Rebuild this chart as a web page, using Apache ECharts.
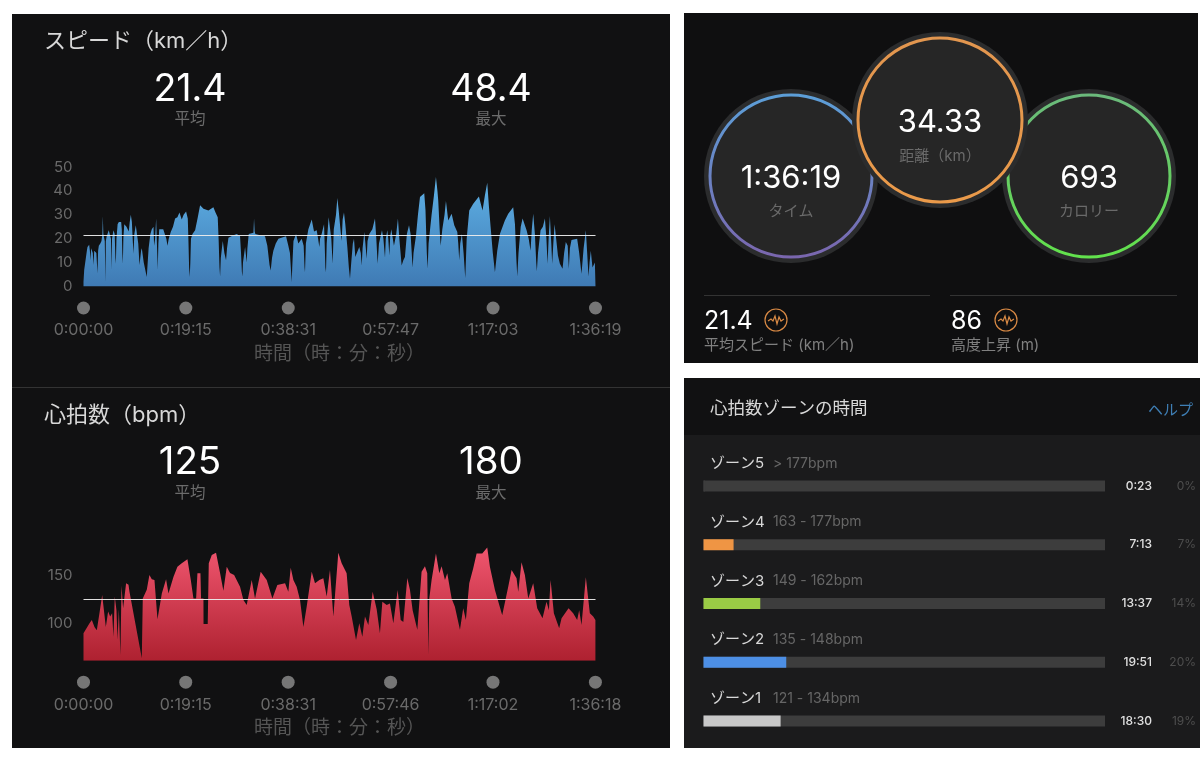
<!DOCTYPE html>
<html><head><meta charset="utf-8">
<style>html,body{margin:0;padding:0;background:#fff}#c{width:1200px;height:762px}</style>
<script src="https://cdn.jsdelivr.net/npm/echarts@6/dist/echarts.min.js"></script>
</head><body><div id="c"></div>
<script>
const speedTimes=[0,8,20,30,38,45,64,72,79,86,94,105,113,121,132,145,158,165,173,190,203,213,218,224,240,248,252,262,285,298,310,316,322,338,352,360,365,372,385,399,425,432,438,444,450,460,470,485,496,511,522,534,546,555,564,574,590,609,618,632,650,658,680,714,735,755,771,790,797,808,820,827,834,838,845,855,869,900,921,935,948,962,985,1010,1034,1060,1083,1109,1130,1158,1177,1184,1192,1199,1206,1213,1230,1260,1290,1316,1354,1410,1466,1490,1515,1525,1535,1542,1550,1572,1590,1609,1620,1636,1692,1730,1767,1778,1788,1794,1800,1824,1842,1850,1865,1918,1925,1932,1940,1993,2049,2075,2100,2113,2128,2143,2170,2200,2286,2312,2330,2345,2350,2356,2370,2399,2425,2463,2485,2495,2500,2510,2538,2576,2602,2632,2648,2662,2670,2688,2715,2722,2730,2737,2745,2767,2782,2797,2812,2825,2850,2865,2880,2900,2914,2925,2940,2955,2978,2995,3008,3022,3040,3053,3068,3085,3113,3130,3140,3150,3170,3182,3196,3206,3226,3260,3290,3305,3320,3335,3369,3385,3403,3412,3429,3440,3452,3462,3474,3504,3530,3549,3565,3591,3610,3628,3650,3674,3692,3708,3715,3725,3752,3775,3798,3846,3860,3875,3884,3895,3929,3955,3978,3995,4004,4020,4031,4050,4075,4091,4117,4155,4185,4219,4230,4241,4252,4271,4290,4309,4325,4354,4399,4463,4504,4530,4557,4575,4595,4620,4644,4670,4700,4756,4794,4850,4870,4885,4896,4910,4935,4956,5001,5025,5046,5060,5076,5095,5110,5117,5130,5159,5185,5208,5225,5238,5250,5264,5280,5290,5303,5317,5335,5355,5377,5407,5425,5444,5465,5478,5490,5508,5572,5595,5621,5645,5670,5685,5700,5712,5726,5745,5772,5779];
const speedValues=[2,7,7,6.7,15,16.5,17.5,15,11,16,15.8,14,9,15,15.8,14,5.5,15,17,18,19,22,29.5,22,19,1.8,19,21,23.5,23,20,7,20,23.5,22,12,9.5,20,26,27,27,24,14,9.5,20,26,26,25,25,23,27,30,27,20,13.7,22,25.6,26,18,9,15,16,10,4,16,22,24,25,17,20,28.4,20,12,7,18,24,24.6,24,24,20,17,20,22.8,25,28.4,29,31,28,30,31.4,28.4,20,8,4,10,20,22,23.5,29,34,32.5,31.8,33.2,31,29,20,8,4.2,12,19,14,11,16,20.4,21.4,22,21,14,6,4.2,10,16.5,10,16,22,22.5,28.4,23,22,21.4,21,17,9,6.7,12,15,18,20,21,17,14,5,1.8,8,19,22,18,20,17,8,6,18,24,28,23,23.5,20,16.5,20,22,26,18,8,6,18,29,28.4,20,9.5,24,30,37,32,24,19,28,31,26,16.5,8,3.2,10,18,20,12.3,14,16.5,14,8.8,16,22.8,18,11.6,19,22,24,28.4,20,9.5,18,23.5,20,12,20,23.5,20,13,21,24,17,22,28.4,20,8.8,11,12.3,22,25.6,22,12,8,14,21,30,37.5,39,32,14,7.4,18,30,38,45.8,40,36,24,17,24,30,35.8,27.6,30.4,25.6,22.8,18,11,18,22,14,3.6,20,31.8,34.6,37.7,31.8,38,43.4,34,25,14,6,15,22,27.6,30.4,33.2,26,12,4.2,14,25,28.4,23.5,20,15,24,30.4,22,10,6.4,14,23.5,25,28.4,20,9.5,20,29.5,18,9.5,18,26,20,13,9.5,7.4,14,18.6,17,7.4,16,19.5,20,14,5.3,16,23.5,14,4.2,10,15,8,10,10];
const hrTimes=[0,19,68,94,124,150,180,211,252,278,301,323,338,353,372,384,399,417,429,447,481,508,519,658,669,714,744,771,801,835,884,932,959,1015,1060,1109,1173,1211,1241,1271,1286,1320,1327,1354,1355,1402,1414,1448,1496,1542,1579,1617,1654,1700,1767,1805,1842,1899,1936,2000,2068,2132,2188,2275,2312,2339,2369,2406,2444,2482,2519,2576,2613,2662,2707,2745,2782,2820,2876,2914,2952,2970,3000,3027,3076,3113,3147,3177,3215,3264,3309,3346,3373,3422,3459,3497,3546,3580,3610,3655,3685,3715,3768,3816,3854,3880,3892,3903,3929,3978,4016,4042,4080,4106,4155,4192,4249,4286,4316,4354,4399,4437,4501,4557,4587,4644,4726,4794,4832,4888,4907,4944,4982,5020,5076,5121,5181,5226,5253,5272,5309,5369,5396,5475,5527,5572,5595,5621,5670,5715,5753,5778];
const hrValues=[90.5,88.8,100.7,104,97,93.5,111,129.6,97,112.6,107.5,111,87,128,114,84,115,68,139,116,141.5,140,133,65,126,135,150,145.6,145,104.8,131,145.6,131,148,158.5,162,166,145,126,126,151.7,151.7,126,126,100,100,162,170.4,172.8,151.7,134,158.5,152,150,138,124.5,119.4,145,126,153.4,145,126,139.8,141.5,133,157.5,145,138,124.5,97,117.7,153.4,141.5,145,146.6,128,155,107.5,172.8,162,155,151.7,119.4,107.5,83.7,100.7,87,107.5,99,133,115,90.5,122.8,119.4,121,100.7,134.7,104,102,147,134.7,114,94,153.4,159,151.7,68.4,126,145,172,151.7,159,145,151.7,126,117.7,94,116,104,141.5,156.8,172,172,178,158.5,134.7,109,138,155,146.6,133,163,150,126,141.5,116,105.8,122.8,114,145,111,95.6,105.8,116,111,104,114,99,147.6,111,107.5,104];
const speedTicks=[0,1155,2311,3467,4623,5779];
const speedTickLabels=['0:00:00','0:19:15','0:38:31','0:57:47','1:17:03','1:36:19'];
const hrTicks=[0,1154,2310,3466,4622,5778];
const hrTickLabels=['0:00:00','0:19:15','0:38:31','0:57:46','1:17:02','1:36:18'];
const speedYTicks=[0,10,20,30,40,50];
const hrYTicks=[100,150];
const speedAvg=21.4, speedMax=48.4, hrAvg=125, hrMax=180;
const zoneNames=['ゾーン5','ゾーン4','ゾーン3','ゾーン2','ゾーン1'];
const zoneRanges=['> 177bpm','163 - 177bpm','149 - 162bpm','135 - 148bpm','121 - 134bpm'];
const zoneSeconds=[23,433,817,1191,1110];
const zoneTimes=['0:23','7:13','13:37','19:51','18:30'];
const zonePercents=['0%','7%','14%','20%','19%'];
const zoneColors=['#3d3d3d','#ef9544','#9acb45','#4d8fe5','#c8c8c8'];

const FONT='Inter,"Noto Sans CJK JP",sans-serif';
const chart=echarts.init(document.getElementById('c'),null,{renderer:'canvas'});
const grad=(a,b)=>new echarts.graphic.LinearGradient(0,0,0,1,[{offset:0,color:a},{offset:1,color:b}]);
function T(x,y,text,size,fill,align,weight,z){return{type:'text',z:z||5,style:{x,y,text,fontSize:size,fill,align:align||'left',verticalAlign:'middle',fontFamily:FONT,fontWeight:weight||400}};}
function R(x,y,w,h,fill,z){return{type:'rect',z:z||0,shape:{x,y,width:w,height:h},style:{fill}};}
function ring(cx,cy,r,c1,c2,z){return[
 {type:'circle',z,shape:{cx,cy,r:r+6},style:{fill:'#2b2c2d'}},
 {type:'circle',z:z+.1,shape:{cx,cy,r},style:{fill:'#262626',stroke:grad(c1,c2),lineWidth:3}}];}
function icon(cx,cy){return[
 {type:'circle',z:5,shape:{cx,cy,r:11},style:{fill:'none',stroke:'#d98a45',lineWidth:1.2}},
 {type:'polyline',z:5,shape:{points:[[cx-8,cy+1],[cx-5,cy-1],[cx-3,cy+1],[cx-1,cy-4],[cx+1,cy+4],[cx+3,cy-3],[cx+5,cy+1],[cx+8,cy-1]]},style:{fill:'none',stroke:'#d98a45',lineWidth:1.2}}];}
const graphics=[
 R(12,14,658,734,'#111112'),R(12,387,658,1,'#333'),
 R(684,13,514,350,'#0f0f10'),
 R(684,378,516,370,'#1b1b1c'),R(684,378,516,57,'#111112'),
 T(44,41,'スピード（km／h）',22,'#d8d8d8'),
 T(190,89.5,String(speedAvg),37.5,'#fff','center'),T(190,119,'平均',15.5,'#6c6c6c','center'),
 T(491,89.5,String(speedMax),37.5,'#fff','center'),T(491,119,'最大',15.5,'#6c6c6c','center'),
 T(44,415,'心拍数（bpm）',22,'#d8d8d8'),
 T(190,462.5,String(hrAvg),38.5,'#fff','center'),T(190,493,'平均',15.5,'#6c6c6c','center'),
 T(491,462.5,String(hrMax),38.5,'#fff','center'),T(491,493,'最大',15.5,'#6c6c6c','center'),
 ...ring(791,176,81,'#5c9fd8','#7a66ae',1),
 ...ring(1089,176,81,'#6bb97c','#62e24c',1),
 ...ring(940,120,82,'#e2964f','#ea9a4a',2),
 T(791,178.5,'1:36:19',31,'#fff','center'),T(791,211,'タイム',15,'#6a6a6a','center'),
 T(940,122.5,'34.33',31,'#fff','center'),T(940,156,'距離（km）',15,'#6a6a6a','center'),
 T(1089,178.5,'693',31,'#fff','center'),T(1089,211,'カロリー',15,'#6a6a6a','center'),
 R(704,295,226,1,'#333',3),R(950,295,227,1,'#333',3),
 T(704,321.5,'21.4',25,'#fff'),...icon(776,320),T(704,345.5,'平均スピード (km／h)',15,'#808080'),
 T(951,321.5,'86',25,'#fff'),...icon(1006,320),T(951,345.5,'高度上昇 (m)',15,'#808080'),
 T(710,409,'心拍数ゾーンの時間',17.5,'#d8d8d8'),T(1193,410,'ヘルプ',15,'#3f7fb5','right'),
];
zoneNames.forEach((n,i)=>{const y=463.5+i*58.75,by=486+i*58.75;
 graphics.push(T(710,y,n,15,'#d8d8d8'),T(773,y,zoneRanges[i],14,'#666'),
  T(1152,by,zoneTimes[i],12,'#e0e0e0','right',500),T(1196,by,zonePercents[i],12,'#4e4e4e','right'));});

function xAxis(gi,ticks,labels){return{type:'value',gridIndex:gi,min:0,max:5779,
 name:'時間（時：分：秒）',nameLocation:'middle',nameGap:58,nameTextStyle:{color:'#555',fontSize:19,fontFamily:FONT},
 axisLine:{show:false},axisTick:{show:false},splitLine:{show:false},
 axisLabel:{customValues:ticks,margin:15,hideOverlap:false,showMinLabel:true,showMaxLabel:true,
  formatter:v=>'{d|}\n{t|'+labels[ticks.indexOf(v)]+'}',
  rich:{d:{width:13,height:13,borderRadius:6.5,backgroundColor:'#767676',lineHeight:13},t:{color:'#6a6a6a',fontSize:16,fontFamily:FONT,padding:[8,0,0,0],lineHeight:24}}}};}
function yAxis(gi,min,max,ticks){return{type:'value',gridIndex:gi,min,max,axisLine:{show:false},axisTick:{show:false},splitLine:{show:false},
 axisLabel:{customValues:ticks,color:'#6a6a6a',fontSize:15,margin:11,fontFamily:FONT,padding:[2,0,0,0]}};}
function avgLine(v){return{silent:true,symbol:'none',label:{show:false},lineStyle:{color:'#ececec',width:1,type:'solid',opacity:.95},data:[{yAxis:v}],animation:false};}
chart.setOption({animation:false,backgroundColor:'#fff',
 graphic:graphics,
 grid:[
  {left:83.5,width:512,top:167,height:119.5},
  {left:83.5,width:512,top:545.6,height:115.1},
  {left:703.5,width:401.5,top:456.6,height:293.75}],
 xAxis:[xAxis(0,speedTicks,speedTickLabels),xAxis(1,hrTicks,hrTickLabels),
  {type:'value',gridIndex:2,min:0,max:5779,show:false}],
 yAxis:[yAxis(0,0,50,speedYTicks),yAxis(1,62.5,180,hrYTicks),
  {type:'category',gridIndex:2,inverse:true,data:zoneNames,show:false}],
 series:[
  {type:'line',xAxisIndex:0,yAxisIndex:0,data:speedTimes.map((t,i)=>[t,speedValues[i]]),showSymbol:false,lineStyle:{width:0},
   areaStyle:{color:grad('#5fb2e6','#3f7ab4'),opacity:1},markLine:avgLine(speedAvg),z:3},
  {type:'line',xAxisIndex:1,yAxisIndex:1,data:hrTimes.map((t,i)=>[t,hrValues[i]]),showSymbol:false,lineStyle:{width:0},
   areaStyle:{color:grad('#f0566f','#ae2130'),opacity:1},markLine:avgLine(hrAvg),z:3},
  {type:'bar',xAxisIndex:2,yAxisIndex:2,barWidth:11,showBackground:true,backgroundStyle:{color:'#3d3d3d'},
   data:zoneSeconds.map((v,i)=>({value:v,itemStyle:{color:zoneColors[i]}})),z:3}
 ]});
</script></body></html>
